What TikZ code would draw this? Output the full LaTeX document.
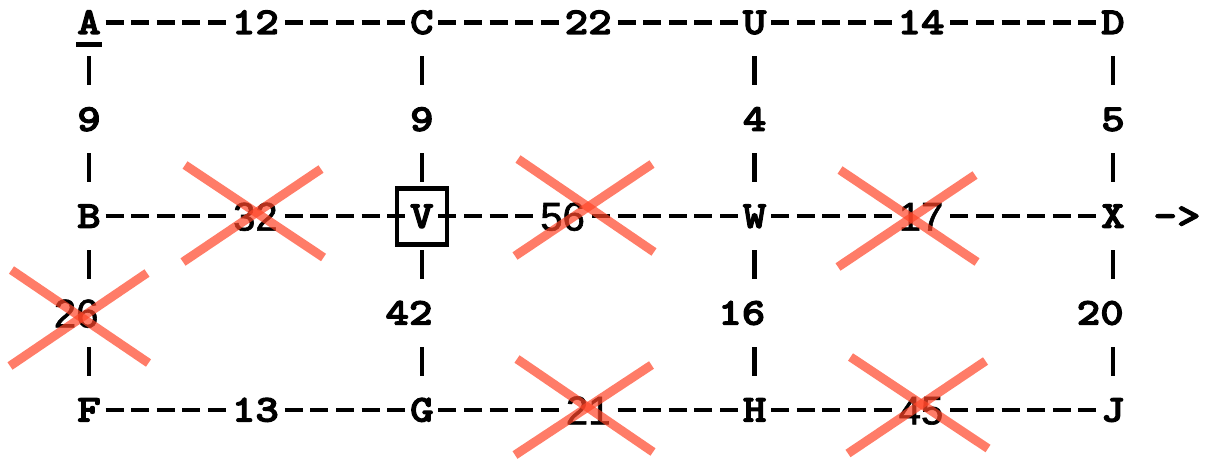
\documentclass[tikz,border=0pt]{standalone}
\usepackage{fontspec}
\usetikzlibrary{calc}
\newfontfamily\sansnum{Liberation Sans}[FakeBold=1.5]
\newfontfamily\cmono{lmmonolt10-bold.otf}[FakeStretch=1.18, FakeBold=3]
\definecolor{strikered}{RGB}{255,69,40}
\tikzset{
  mono/.style={font=\cmono\fontsize{38}{38}\selectfont, inner sep=0pt, outer sep=0pt,
    minimum height=48.44pt, minimum width=25.6pt, text height=23pt, text depth=0pt},
  mono2/.style={mono, minimum width=51.2pt},
  crossed/.style={font=\sansnum\fontsize{40}{40}\selectfont, inner sep=0pt, outer sep=0pt,
    minimum height=48.44pt, minimum width=51.2pt, text height=28.6pt, text depth=0pt},
  hdash/.style={line width=4.2pt, dash pattern=on 18pt off 7.6pt, dash phase=21.8pt},
  vpipe/.style={line width=4.3pt, dash pattern=on 29pt off 67.88pt, dash phase=87.16pt},
  strike/.style={line width=9pt, draw=strikered, draw opacity=0.7},
  boxline/.style={line width=4.5pt},
}
\begin{document}
\begin{tikzpicture}[x=1pt,y=-1pt]
\useasboundingbox (0,0) rectangle (1207,460);
% row 0
\node[mono]  (A)   at ({89+25.6*0},    {22.5+48.44*0}) {A};
\node[mono2] (n12) at ({89+25.6*6.5},  {22.5+48.44*0}) {12};
\node[mono]  (C)   at ({89+25.6*13},   {22.5+48.44*0}) {C};
\node[mono2] (n22) at ({89+25.6*19.5}, {22.5+48.44*0}) {22};
\node[mono]  (U)   at ({89+25.6*26},   {22.5+48.44*0}) {U};
\node[mono2] (n14) at ({89+25.6*32.5}, {22.5+48.44*0}) {14};
\node[mono]  (D)   at ({89+25.6*40},   {22.5+48.44*0}) {D};
% row 2
\node[mono] (n9a) at ({89+25.6*0},  {22.5+48.44*2}) {9};
\node[mono] (n9b) at ({89+25.6*13}, {22.5+48.44*2}) {9};
\node[mono] (n4)  at ({89+25.6*26}, {22.5+48.44*2}) {4};
\node[mono] (n5)  at ({89+25.6*40}, {22.5+48.44*2}) {5};
% row 4
\node[mono]    (B)   at ({89+25.6*0},    {22.5+48.44*4}) {B};
\node[crossed] (n32) at ({89+25.6*6.5},  {22.5+48.44*4}) {32};
\node[mono]    (V)   at ({89+25.6*13},   {22.5+48.44*4}) {V};
\node[crossed] (n56) at ({89+25.6*18.5}, {22.5+48.44*4}) {56};
\node[mono]    (W)   at ({89+25.6*26},   {22.5+48.44*4}) {W};
\node[crossed] (n17) at ({89+25.6*32.5}, {22.5+48.44*4}) {17};
\node[mono]    (X)   at ({89+25.6*40},   {22.5+48.44*4}) {X};
\node[mono2]   (arr) at ({89+25.6*42.5}, {22.5+48.44*4}) {->};
% row 6
\node[crossed] (n26) at ({89+25.6*(-0.5)}, {22.5+48.44*6}) {26};
\node[mono2]   (n42) at ({89+25.6*12.5},   {22.5+48.44*6}) {42};
\node[mono2]   (n16) at ({89+25.6*25.5},   {22.5+48.44*6}) {16};
\node[mono2]   (n20) at ({89+25.6*39.5},   {22.5+48.44*6}) {20};
% row 8
\node[mono]    (F)   at ({89+25.6*0},    {22.5+48.44*8}) {F};
\node[mono2]   (n13) at ({89+25.6*6.5},  {22.5+48.44*8}) {13};
\node[mono]    (G)   at ({89+25.6*13},   {22.5+48.44*8}) {G};
\node[crossed] (n21) at ({89+25.6*19.5}, {22.5+48.44*8}) {21};
\node[mono]    (H)   at ({89+25.6*26},   {22.5+48.44*8}) {H};
\node[crossed] (n45) at ({89+25.6*32.5}, {22.5+48.44*8}) {45};
\node[mono]    (J)   at ({89+25.6*40},   {22.5+48.44*8}) {J};
% horizontal connectors
\draw[hdash] (A) -- (n12);  \draw[hdash] (n12) -- (C);
\draw[hdash] (C) -- (n22);  \draw[hdash] (n22) -- (U);
\draw[hdash] (U) -- (n14);  \draw[hdash] (n14) -- (D);
\draw[hdash] (B) -- (n32);  \draw[hdash] (n32) -- (V);
\draw[hdash] (V) -- (n56);  \draw[hdash] (n56) -- (W);
\draw[hdash] (W) -- (n17);  \draw[hdash] (n17) -- (X);
\draw[hdash] (F) -- (n13);  \draw[hdash] (n13) -- (G);
\draw[hdash] (G) -- (n21);  \draw[hdash] (n21) -- (H);
\draw[hdash] (H) -- (n45);  \draw[hdash] (n45) -- (J);
% vertical connectors
\draw[vpipe] (A) -- (B);  \draw[vpipe] (B) -- (F);
\draw[vpipe] (C) -- (V);  \draw[vpipe] (V) -- (G);
\draw[vpipe] (U) -- (W);  \draw[vpipe] (W) -- (H);
\draw[vpipe] (D) -- (X);  \draw[vpipe] (X) -- (J);
% underline of A and box round V
\draw[boxline] ($(A.center)+(-13,21.8)$) -- ($(A.center)+(13,21.8)$);
\draw[boxline] ($(V.center)+(-25,-28)$) rectangle ($(V.center)+(25,28)$);
% strike-outs
\draw[strike] (185,165) -- (323.5,257.5);  \draw[strike] (183,262) -- (321,169);
\draw[strike] (518,159) -- (654,252);      \draw[strike] (515,256) -- (652,164);
\draw[strike] (840,170) -- (977,262);      \draw[strike] (838,267) -- (975,175);
\draw[strike] (11.5,270) -- (148.5,363);   \draw[strike] (10,366) -- (147,273);
\draw[strike] (517,359) -- (653,452);      \draw[strike] (515,455) -- (651.5,365);
\draw[strike] (850.5,357) -- (988,448.5);  \draw[strike] (848,453.5) -- (985.5,361);
\end{tikzpicture}
\end{document}
